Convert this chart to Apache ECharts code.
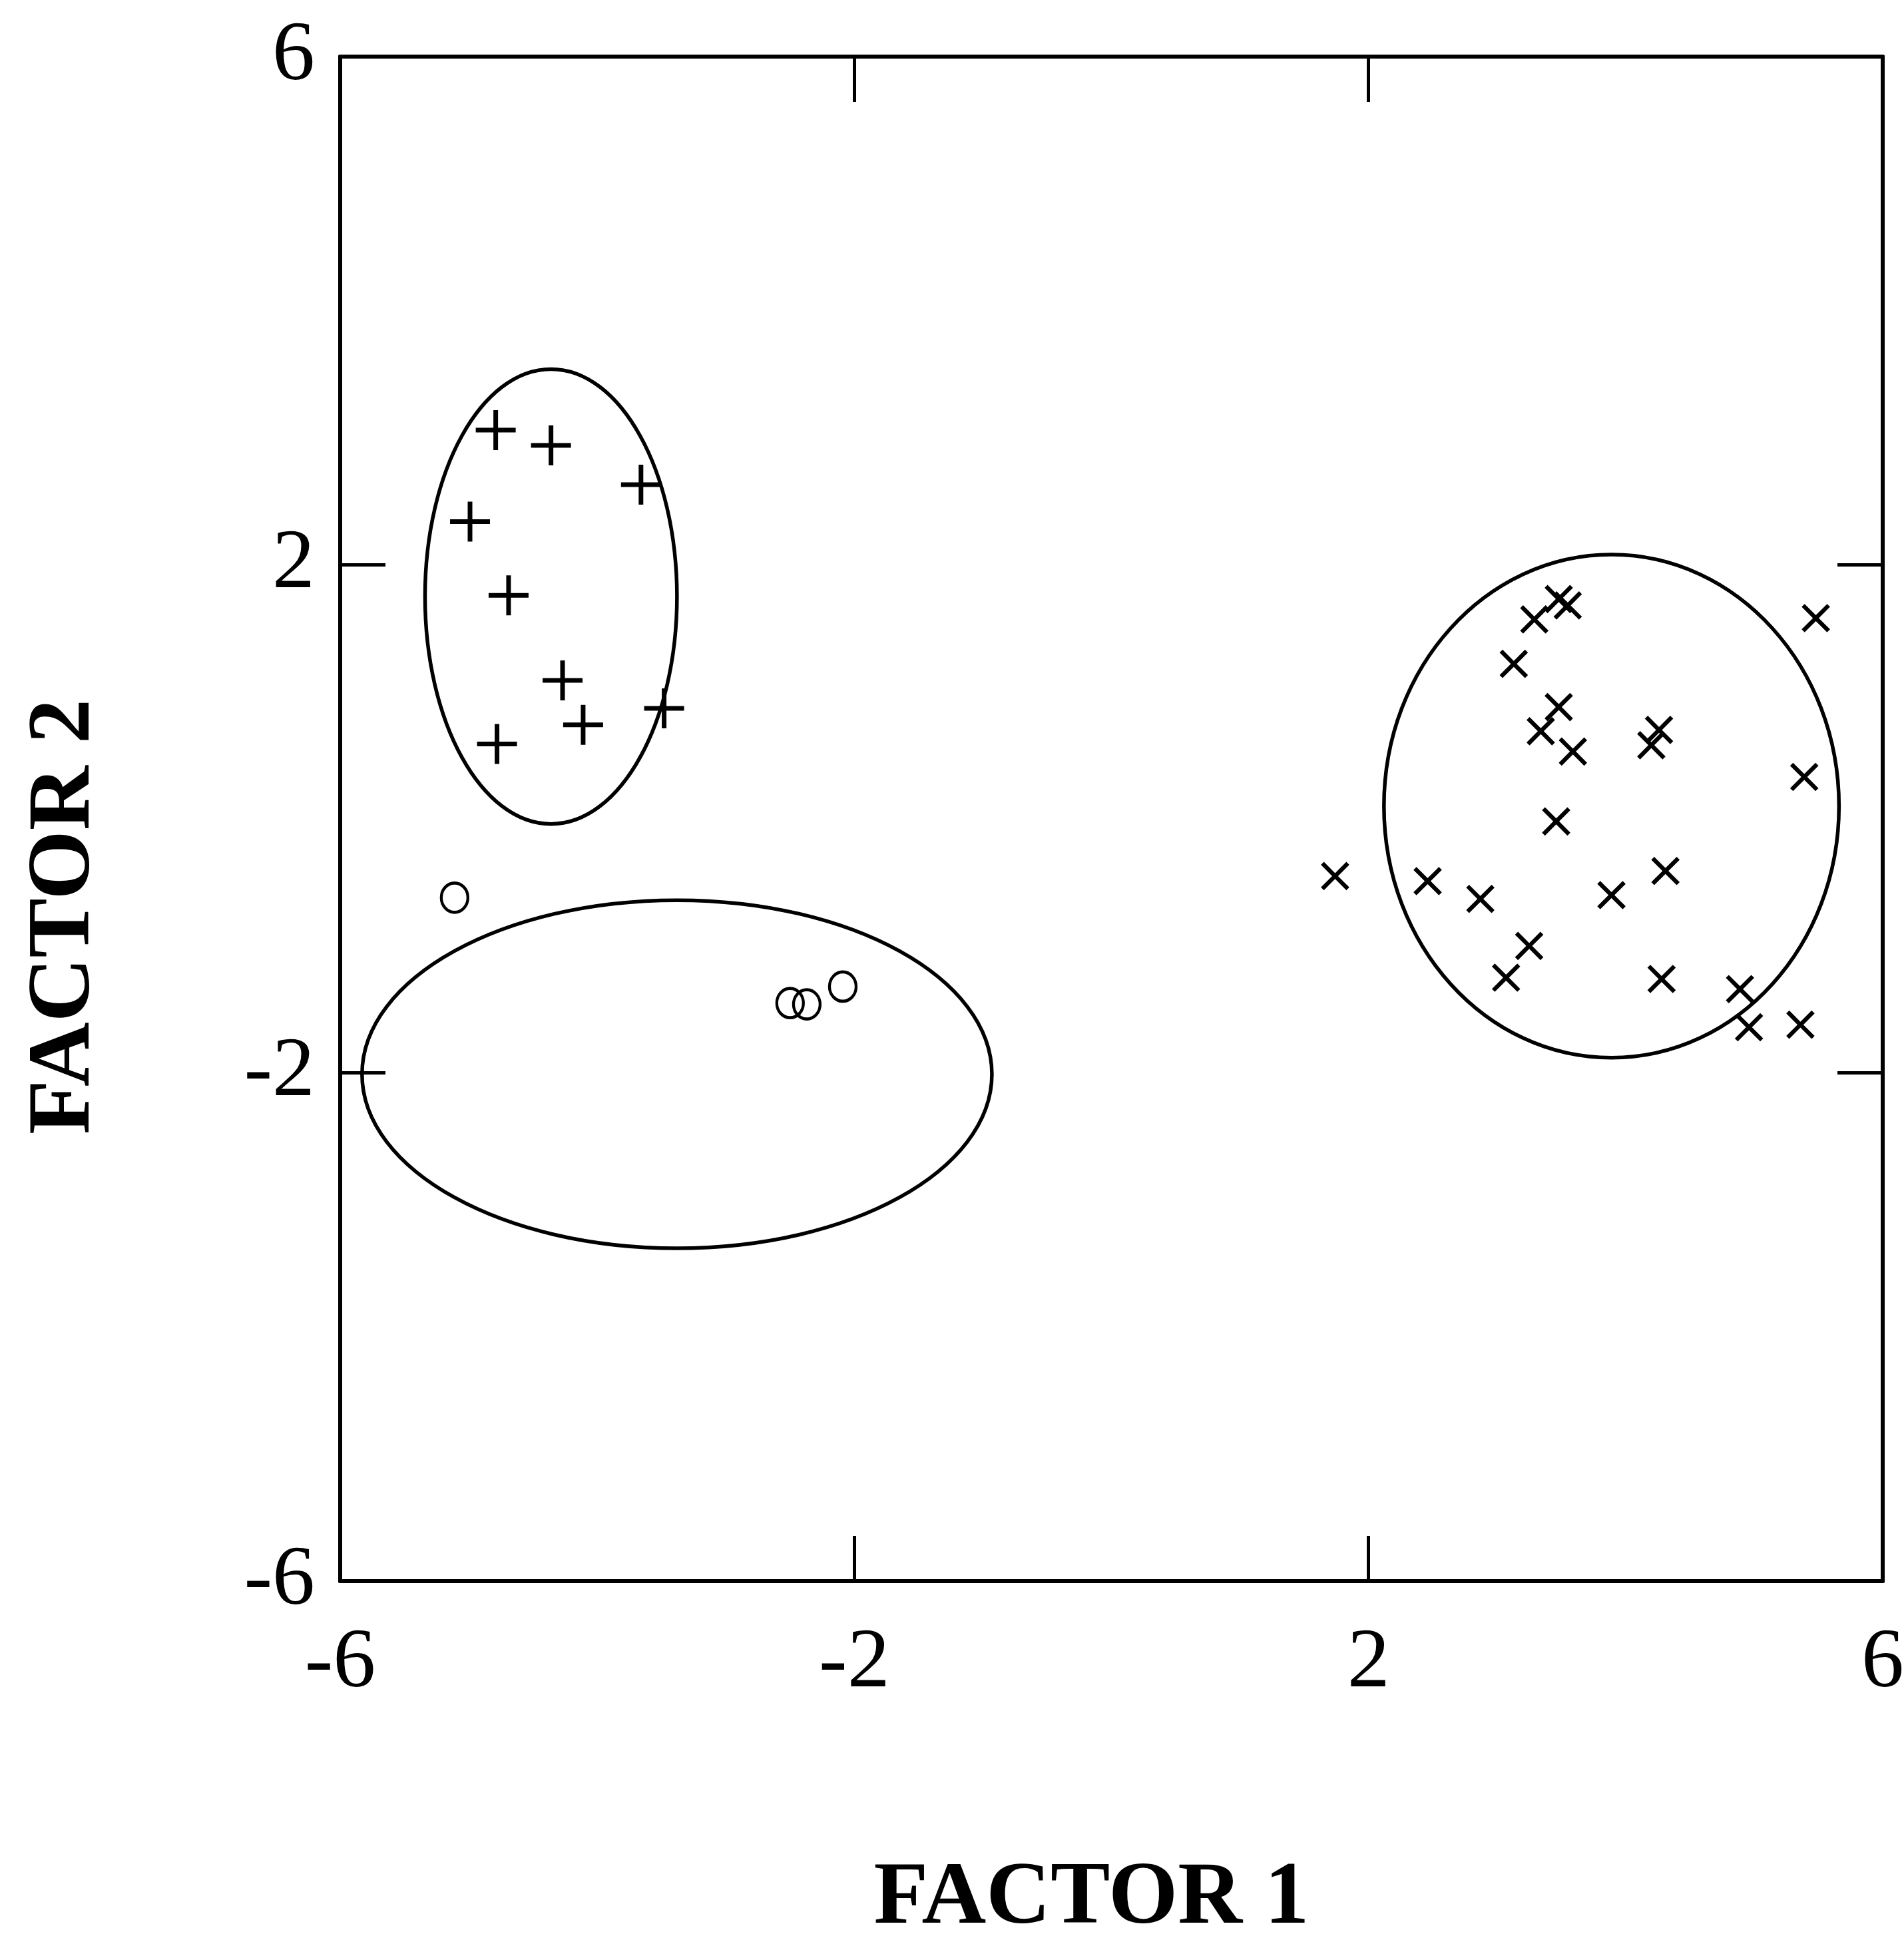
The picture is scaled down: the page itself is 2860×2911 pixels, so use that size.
<!DOCTYPE html>
<html>
<head>
<meta charset="utf-8">
<script src="https://cdn.jsdelivr.net/npm/echarts@6/dist/echarts.min.js"></script>
<style>
  html, body { margin: 0; padding: 0; background: #ffffff; }
  #chart { width: 2860px; height: 2911px; }
</style>
</head>
<body>
<div id="chart"></div>
<script>
// ---- data ----
const xTickLabels = ['-6', '-2', '2', '6'];
const yTickLabels = ['-6', '-2', '2', '6'];
const xAxisTitle = 'FACTOR 1';
const yAxisTitle = 'FACTOR 2';

// "+" group
const plusX = [-4.79, -4.36, -3.66, -4.99, -4.69, -4.27, -4.11, -3.48, -4.78];
const plusY = [3.06, 2.94, 2.63, 2.34, 1.76, 1.09, 0.74, 0.87, 0.59];

// "o" group
const circleX = [-5.11, -2.50, -2.37, -2.09];
const circleY = [-0.62, -1.45, -1.46, -1.32];

// "x" group
const crossX = [3.48, 3.55, 3.29, 3.13, 3.48, 3.34, 3.59, 4.26, 4.20, 5.48, 5.39, 3.46,
                1.74, 2.46, 2.87, 3.89, 4.31, 3.25, 3.07, 4.28, 4.89, 4.96, 5.36];
const crossY = [1.73, 1.68, 1.57, 1.22, 0.88, 0.69, 0.53, 0.70, 0.58, 1.58, 0.33, -0.02,
                -0.45, -0.49, -0.63, -0.60, -0.41, -1.00, -1.25, -1.26, -1.34, -1.64, -1.62];

// group ellipses: centre and semi-axes (data units)
const ellipseCx = [-4.36, -3.38, 3.89];
const ellipseCy = [1.75, -2.01, 0.10];
const ellipseRx = [0.98, 2.45, 1.77];
const ellipseRy = [1.79, 1.37, 1.98];

// ---- build ----
const zip = (a, b) => a.map((v, i) => [v, b[i]]);
const ellipseData = ellipseCx.map((c, i) => [c, ellipseCy[i], ellipseRx[i], ellipseRy[i]]);

const PLUS_PATH = 'path://M26.5,0 h7 v26.5 h26.5 v7 h-26.5 v26.5 h-7 v-26.5 h-26.5 v-7 h26.5 z';
const FONT = 'Liberation Serif';
const tickStyle = { show: true, inside: true, length: 68, lineStyle: { color: '#000', width: 5 } };
const lineStyle = { show: true, onZero: false, lineStyle: { color: '#000', width: 6 } };

const chart = echarts.init(document.getElementById('chart'), null, { renderer: 'canvas' });
chart.setOption({
  animation: false,
  backgroundColor: '#ffffff',
  grid: { left: 511, right: 32, top: 85, bottom: 536, containLabel: false, outerBoundsMode: 'none' },
  xAxis: [
    {
      type: 'value', position: 'bottom', min: -6, max: 6, interval: 4,
      axisLine: lineStyle, axisTick: tickStyle, splitLine: { show: false },
      axisLabel: {
        show: true, margin: 60, showMinLabel: true, showMaxLabel: true,
        fontFamily: FONT, fontSize: 128, color: '#000',
        formatter: v => xTickLabels[Math.round((v + 6) / 4)]
      },
      name: xAxisTitle, nameLocation: 'middle', nameGap: 411,
      nameTextStyle: { fontFamily: FONT, fontWeight: 'bold', fontSize: 134, color: '#000', padding: [0, 60, 0, 0] }
    },
    {
      type: 'value', position: 'top', min: -6, max: 6, interval: 4,
      axisLine: lineStyle, axisTick: tickStyle, splitLine: { show: false },
      axisLabel: { show: false }
    }
  ],
  yAxis: [
    {
      type: 'value', position: 'left', min: -6, max: 6, interval: 4,
      axisLine: lineStyle, axisTick: tickStyle, splitLine: { show: false },
      axisLabel: {
        show: true, margin: 38, showMinLabel: true, showMaxLabel: true,
        fontFamily: FONT, fontSize: 128, color: '#000',
        formatter: v => yTickLabels[Math.round((v + 6) / 4)]
      },
      name: yAxisTitle, nameLocation: 'middle', nameGap: 346, nameRotate: 90,
      nameTextStyle: { fontFamily: FONT, fontWeight: 'bold', fontSize: 134, color: '#000', padding: [0, 294, 0, 0] }
    },
    {
      type: 'value', position: 'right', min: -6, max: 6, interval: 4,
      axisLine: lineStyle, axisTick: tickStyle, splitLine: { show: false },
      axisLabel: { show: false }
    }
  ],
  series: [
    {
      type: 'custom', name: 'ellipses', xAxisIndex: 0, yAxisIndex: 0,
      data: ellipseData, silent: true,
      renderItem: (params, api) => {
        const c = api.coord([api.value(0), api.value(1)]);
        const s = api.size([api.value(2), api.value(3)]);
        return {
          type: 'ellipse',
          shape: { cx: c[0], cy: c[1], rx: s[0], ry: s[1] },
          style: { fill: 'none', stroke: '#000', lineWidth: 5.5 }
        };
      }
    },
    {
      type: 'scatter', name: 'plus', xAxisIndex: 0, yAxisIndex: 0,
      data: zip(plusX, plusY), symbol: PLUS_PATH, symbolSize: 60,
      itemStyle: { color: '#000', opacity: 1 }
    },
    {
      type: 'scatter', name: 'cross', xAxisIndex: 0, yAxisIndex: 0,
      data: zip(crossX, crossY), symbol: PLUS_PATH, symbolSize: 54, symbolRotate: 45,
      itemStyle: { color: '#000', opacity: 1 }
    },
    {
      type: 'scatter', name: 'circle', xAxisIndex: 0, yAxisIndex: 0,
      data: zip(circleX, circleY), symbol: 'circle', symbolSize: [40, 44],
      itemStyle: { color: 'rgba(0,0,0,0)', borderColor: '#000', borderWidth: 4.5, opacity: 1 }
    }
  ]
});
</script>
</body>
</html>
